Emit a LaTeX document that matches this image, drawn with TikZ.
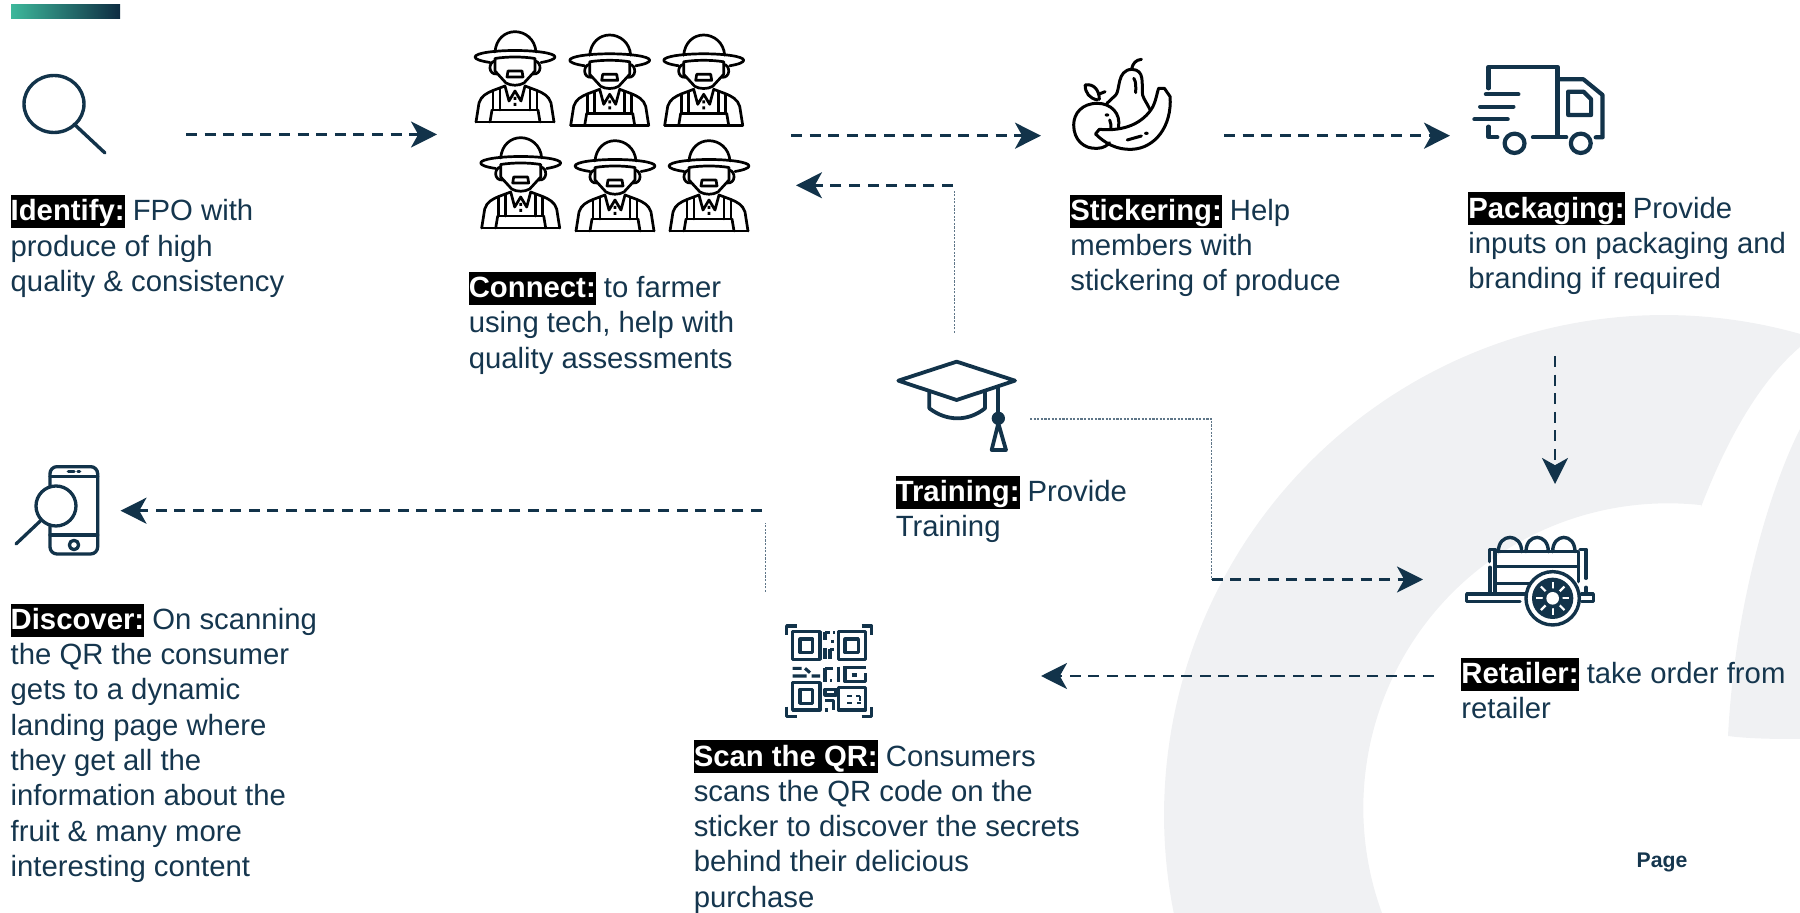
\documentclass[tikz,border=0pt]{standalone}
\usepackage{fontspec}
\setmainfont{Liberation Sans}
\usetikzlibrary{arrows.meta}
\definecolor{navy}{HTML}{12334A}
\definecolor{txt}{HTML}{15364E}
\definecolor{ring}{HTML}{F0F1F3}
\definecolor{thin}{HTML}{5F7688}
\definecolor{barL}{HTML}{3DB89B}
\definecolor{barR}{HTML}{0E2C42}
\newcommand{\hl}[1]{{\setlength{\fboxsep}{0pt}\colorbox{black}{\rule[-3.6pt]{0pt}{16.5pt}\textcolor{white}{\bfseries #1}}}}
\tikzset{
  body/.style={inner sep=0pt,anchor=north west,align=left,text=txt,font=\fontsize{14.65}{17.65}\selectfont},
  thick dash/.style={draw=navy,line width=1.4pt,dash pattern=on 5.5pt off 3.8pt},
  flow/.style={thick dash,-{Stealth[length=13pt,width=13pt,inset=3.6pt,color=navy]}},
  hair/.style={draw=thin,line width=0.6pt,dash pattern=on 1.1pt off 0.7pt},
  ico/.style={draw=navy,line width=1.9pt,line cap=round,line join=round},
  blk/.style={draw=black,line width=1.35pt,line cap=round,line join=round},
  pics/farmer/.style={code={
    \draw[blk] (-20,21) .. controls (-19,8) and (-10,0.7) .. (0,0.7) .. controls (10,0.7) and (20,8) .. (21,21);
    \draw[blk] (-25,31.5) .. controls (-35,30) and (-40,28) .. (-40,26) .. controls (-40,22) and (-20,19.5) .. (0,19.5) .. controls (20,19.5) and (40,22) .. (40,26) .. controls (40,28) and (35,30) .. (26,31.5);
    \draw[blk] (-20,27.5) .. controls (-8,25.5) and (8,25.5) .. (20,27.5) -- (20,40) -- (9,52) .. controls (4,55) and (-4,55) .. (-9,52) -- (-20,40) -- cycle;
    \draw[blk] (-20,30) .. controls (-27,31) and (-27,44) .. (-18,43);
    \draw[blk] (20,30) .. controls (27,31) and (27,44) .. (18,43);
    \draw[blk] (-8,46) -- (-7,40) -- (7,40) -- (8,46) -- cycle;
    \draw[blk] (-39,91) -- (39,91);
    \draw[blk] (-39,91) -- (-36,72) .. controls (-34,65) and (-28,62) .. (-22,59.5) -- (-10,55) -- (-6,70) -- (0,60) -- (6,70) -- (10,55) -- (22,59.5) .. controls (28,62) and (34,65) .. (36,72) -- (39,91);
    \draw[blk] (-22,60) -- (-22,79) -- (22,79) -- (22,60);
    \draw[blk] (-15,58) -- (-15,79) (15,58) -- (15,79);
    \draw[blk] (-23,79) -- (-25,91) (23,79) -- (25,91);
    \fill (-1.3,66) rectangle (1.3,69) (-1.3,72) rectangle (1.3,75);
  }}
}
\begin{document}
\begin{tikzpicture}[x=0.5pt,y=-0.5pt]
\useasboundingbox (0,0) rectangle (1800,913);
% background ring
\begin{scope}
\clip (0,0) rectangle (1800,913);
\fill[ring] plot[domain=168.7:285.8,samples=90] ({1664+500*cos(\x)},{815+500*sin(\x)})
  -- (1800,347) .. controls (1764,378) and (1731,429) .. (1701,507)
  -- plot[domain=276.3:159.8,samples=90] ({1668+304.7*cos(\x)},{808+304.7*sin(\x)}) -- cycle;
\fill[ring] (1800,429) .. controls (1772,484) and (1735,600) .. (1728,736) .. controls (1750,739) and (1780,739) .. (1800,739) -- cycle;
\end{scope}
% gradient bar
\shade[left color=barL,right color=barR] (11,4.6) rectangle (120,19);
% magnifier
\draw[ico,line width=1.7pt] (54,104) ellipse[x radius=30,y radius=28.5];
\draw[ico,line width=1.7pt] (74,124) -- (105,153);
% farmers
\pic at (515,31) {farmer};
\pic at (609.7,34.3) {farmer};
\pic at (703.7,34.3) {farmer};
\pic at (520.7,137) {farmer};
\pic at (615,140) {farmer};
\pic at (709,140) {farmer};
% fruit
\begin{scope}[shift={(1040,40)},xscale=0.3827,yscale=0.3333]
\begin{scope}[blk,line width=1.5pt]
\draw (240,85) .. controls (243,70) and (250,60) .. (265,58);
\draw (175,190) -- (198,165) .. controls (210,150) and (200,90) .. (240,88) .. controls (275,90) and (265,130) .. (268,165) .. controls (272,180) and (280,190) .. (287,208);
\draw (245,115) .. controls (252,125) and (250,145) .. (250,158);
\draw (205,262) .. controls (212,220) and (185,190) .. (150,190) .. controls (110,190) and (88,220) .. (88,255) .. controls (88,300) and (115,328) .. (150,325) .. controls (165,325) and (178,315) .. (182,308);
\draw (150,180) .. controls (130,175) and (118,160) .. (118,135) .. controls (140,130) and (155,150) .. (155,178);
\draw (155,162) -- (170,155);
\draw (182,240) .. controls (186,250) and (186,258) .. (185,268);
\draw (145,282) .. controls (170,310) and (200,330) .. (240,328) .. controls (300,325) and (345,260) .. (340,170) -- (325,145) -- (310,145) .. controls (305,160) and (305,175) .. (295,200) .. controls (270,250) and (220,275) .. (155,268) -- cycle;
\draw (228,300) -- (265,288);
\fill (278,280) ellipse[x radius=6,y radius=5];
\fill (175,225) ellipse[x radius=6,y radius=5];
\end{scope}
% truck
\begin{scope}[ico,line width=2.1pt]
\draw (1172,145) -- (1172,80) -- (1352,80) -- (1352,290);
\draw (1352,118) -- (1420,118) -- (1470,165) -- (1470,292) -- (1452,292);
\draw (1380,155) -- (1420,155) -- (1440,178) -- (1440,225) -- (1380,225) -- cycle;
\draw (1165,163) -- (1250,163);
\draw (1150,200) -- (1237,200);
\draw (1135,238) -- (1222,238);
\draw (1172,260) -- (1172,292) -- (1195,292);
\draw (1288,292) -- (1375,292);
\draw (1240,310) ellipse[x radius=26,y radius=29];
\draw (1413,310) ellipse[x radius=26,y radius=29];
\end{scope}
\end{scope}
% mortarboard
\begin{scope}[shift={(880,340)},scale=0.3333]
\begin{scope}[ico]
\draw (55,122) -- (230,65) -- (405,122) -- (230,180) -- cycle;
\draw (148,155) -- (148,205) .. controls (200,245) and (265,245) .. (315,205) -- (315,155);
\draw (355,140) -- (355,225);
\fill[navy] (355,235) circle[radius=20];
\draw (355,250) -- (335,330) -- (378,330) -- cycle;
\end{scope}
\end{scope}
% cart
\begin{scope}[shift={(1440,510)},scale=0.3333]
\begin{scope}[ico,line width=1.7pt]
\draw (175,125) .. controls (175,68) and (245,68) .. (245,125);
\draw (258,125) .. controls (258,68) and (325,68) .. (325,125);
\draw (338,125) .. controls (338,68) and (405,68) .. (405,125);
\draw (148,155) -- (148,118) -- (165,118) -- (165,250);
\draw (150,172) -- (150,250);
\draw (165,125) -- (415,125) -- (415,215);
\draw (165,170) -- (415,170);
\draw (165,220) -- (275,220);
\draw (420,118) -- (438,118) -- (438,205);
\draw (438,232) -- (438,252);
\draw (240,275) -- (80,275) -- (80,252) -- (262,252);
\draw (425,252) -- (460,252) -- (460,275) -- (425,275);
\draw[fill=white] (338,265) circle[radius=80];
\fill[navy] (338,265) circle[radius=62];
\foreach \a in {0,45,...,315} {\draw[white,line width=1.1pt,line cap=butt] (338,265) -- ++(\a:50);}
\fill[navy] (338,265) circle[radius=30];
\fill[white] (338,265) circle[radius=19];
\end{scope}
\end{scope}
% QR
\begin{scope}[shift={(770,610)},scale=0.3333]
\begin{scope}[ico,line width=1.55pt,line cap=butt]
\draw (50,75) -- (50,48) -- (80,48);
\draw (275,48) -- (305,48) -- (305,75);
\draw (50,290) -- (50,320) -- (80,320);
\draw (275,320) -- (305,320) -- (305,290);
\draw (68,65) rectangle (150,148);
\draw (90,87) rectangle (128,128);
\draw (205,65) rectangle (287,148);
\draw (225,87) rectangle (265,128);
\draw (68,218) rectangle (150,300);
\draw (90,238) rectangle (128,280);
\draw (205,232) rectangle (287,300);
\draw[line width=1pt] (232,258) -- (245,258) (258,258) -- (270,258) (270,258) -- (270,272) (232,280) -- (245,280) (262,280) -- (272,280);
\draw (165,65) -- (165,90) (165,68) -- (180,68) (190,68) -- (195,68) (188,90) -- (188,100) (165,115) -- (165,148) (180,118) -- (192,118) (180,118) -- (180,148);
\draw (68,175) -- (95,175) (105,175) -- (120,188) (68,198) -- (110,198) (125,198) -- (150,198);
\draw (165,175) -- (190,175) (165,175) -- (165,215) (205,170) -- (205,210);
\draw (220,172) -- (287,172) (225,172) -- (225,215) -- (287,215) -- (287,190) (245,195) -- (262,195);
\draw (165,238) rectangle (198,255);
\draw (165,272) -- (190,272) -- (190,300) (165,300) -- (175,300);
\draw (180,212) -- (185,212) (200,212) -- (210,212);
\end{scope}
\end{scope}
% phone
\begin{scope}[shift={(0,450)},scale=0.3333]
\begin{scope}[ico,line width=1.65pt]
\draw[rounded corners=3.5pt] (150,50) rectangle (293,312);
\draw (150,80) -- (293,80);
\draw (150,255) -- (293,255);
\draw (205,65) -- (222,65);
\draw (234,65) -- (239,65);
\draw (222,285) circle[radius=14];
\draw[fill=white] (168,168) circle[radius=60];
\draw (122,212) -- (48,282);
\end{scope}
\end{scope}
% text blocks
\node[body] (tIdentify) at (10.3,194.6) {\hl{Identify:} FPO with\\produce of high\\quality \& consistency};
\node[body] (tConnect) at (468.4,271.5) {\hl{Connect:} to farmer\\using tech, help with\\quality assessments};
\node[body] (tSticker) at (1070,194.2) {\hl{Stickering:} Help\\members with\\stickering of produce};
\node[body] (tPack) at (1468,192) {\hl{Packaging:} Provide\\inputs on packaging and\\branding if required};
\node[body] (tTrain) at (895.4,475.4) {\hl{Training:} Provide\\Training};
\node[body] (tDiscover) at (10.3,603.2) {\hl{Discover:} On scanning\\the QR the consumer\\gets to a dynamic\\landing page where\\they get all the\\information about the\\fruit \& many more\\interesting content};
\node[body] (tRetail) at (1461,657.2) {\hl{Retailer:} take order from\\retailer};
\node[body] (tScan) at (693.4,739.9) {\hl{Scan the QR:} Consumers\\scans the QR code on the\\sticker to discover the secrets\\behind their delicious\\purchase};
\node[font=\fontsize{10.6}{12}\selectfont\bfseries,text=txt,inner sep=0pt] (tPage) at (1662,862) {Page};
% connector points
\coordinate (a1s) at (186,134.5); \coordinate (a1e) at (437,134.5);
\coordinate (a2s) at (791,135.7); \coordinate (a2e) at (1041,135.7);
\coordinate (a3s) at (1224,135.7); \coordinate (a3e) at (1450,135.7);
\coordinate (a4s) at (954.3,333); \coordinate (a4m) at (954.3,190.7); \coordinate (a4k) at (953,185.3); \coordinate (a4e) at (796,185.3);
\coordinate (a5s) at (1555,356); \coordinate (a5e) at (1555,484);
\coordinate (a6s) at (1030,419); \coordinate (a6m) at (1211.7,419); \coordinate (a6k) at (1211.7,579.5); \coordinate (a6e) at (1423,579.5);
\coordinate (a7s) at (1434,676); \coordinate (a7e) at (1041,676);
\coordinate (a8s) at (765.7,592); \coordinate (a8m) at (765.7,523); \coordinate (a8k) at (762,510.7); \coordinate (a8e) at (120.5,510.7);
\draw[flow] (a1s) -- (a1e);
\draw[flow] (a2s) -- (a2e);
\draw[flow] (a3s) -- (a3e);
\draw[hair] (a4s) -- (a4m);
\draw[flow] (a4k) -- (a4e);
\draw[flow] (a5s) -- (a5e);
\draw[hair] (a6s) -- (a6m) -- (a6k);
\draw[flow] (a6k) -- (a6e);
\draw[flow] (a7s) -- (a7e);
\draw[hair] (a8s) -- (a8m);
\draw[flow] (a8k) -- (a8e);
\end{tikzpicture}
\end{document}
